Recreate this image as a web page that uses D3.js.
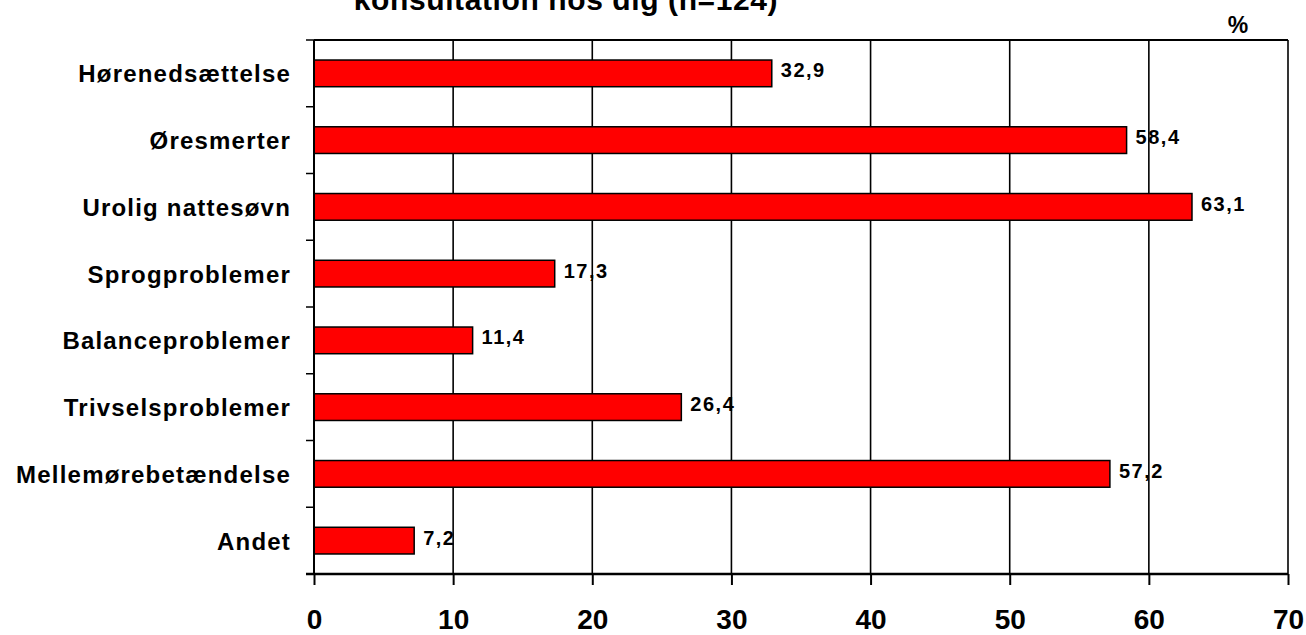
<!DOCTYPE html>
<html>
<head>
<meta charset="utf-8">
<script src="https://cdn.jsdelivr.net/npm/d3@7"></script>
<style>
  body { margin: 0; background: #fff; }
  svg { display: block; font-family: "Liberation Sans", Arial, sans-serif; font-weight: bold; }
</style>
</head>
<body>
<svg id="chart" width="1306" height="635"></svg>
<script>
const categories = ["Hørenedsættelse", "Øresmerter", "Urolig nattesøvn", "Sprogproblemer",
  "Balanceproblemer", "Trivselsproblemer", "Mellemørebetændelse", "Andet"];
const values = [32.9, 58.4, 63.1, 17.3, 11.4, 26.4, 57.2, 7.2];
const xTicks = [0, 10, 20, 30, 40, 50, 60, 70];
const titleText = "konsultation hos dig (n=124)";
const unitText = "%";

const svg = d3.select("#chart");
const plotLeft = 314, plotRight = 1288, plotTop = 40, plotBottom = 574;

const x = d3.scaleLinear().domain([0, 70]).range([plotLeft, plotRight]);
const y = d3.scaleBand().domain(categories).range([plotTop, plotBottom]).paddingInner(0.6).paddingOuter(0.3);

// vertical gridlines and top edge of the plot
svg.append("g").selectAll("line").data(xTicks.slice(1)).join("line")
  .attr("x1", d => x(d)).attr("x2", d => x(d))
  .attr("y1", plotTop).attr("y2", plotBottom)
  .attr("stroke", "#000").attr("stroke-width", 1.6);
svg.append("line").attr("x1", plotLeft).attr("x2", plotRight).attr("y1", plotTop).attr("y2", plotTop)
  .attr("stroke", "#000").attr("stroke-width", 2);

// bars
svg.append("g").selectAll("rect").data(values).join("rect")
  .attr("x", x(0))
  .attr("y", (d, i) => y(categories[i]))
  .attr("width", d => x(d) - x(0))
  .attr("height", y.bandwidth())
  .attr("fill", "#ff0000")
  .attr("stroke", "#000").attr("stroke-width", 1.5);

// value labels
svg.append("g").selectAll("text").data(values).join("text")
  .attr("x", d => x(d) + 9)
  .attr("y", (d, i) => y(categories[i]) + y.bandwidth() / 2 + 4)
  .attr("font-size", 20)
  .attr("letter-spacing", 1.5)
  .text(d => d.toFixed(1).replace(".", ","));

// x axis
const xAxis = svg.append("g").attr("transform", `translate(0,${plotBottom})`)
  .call(d3.axisBottom(x).tickValues(xTicks).tickSize(11).tickSizeOuter(0));
xAxis.select(".domain").remove();
xAxis.append("line").attr("x1", plotLeft - 8).attr("x2", plotRight).attr("y1", 0).attr("y2", 0)
  .attr("stroke", "#000").attr("stroke-width", 2.5);
xAxis.selectAll(".tick line").attr("stroke-width", 2);
xAxis.selectAll(".tick text")
  .attr("y", 55).attr("dy", null)
  .attr("font-size", 28).attr("font-weight", "bold")
  .attr("font-family", "Liberation Sans, Arial, sans-serif").attr("fill", "#000");

// y axis with ticks at category boundaries
const step = (plotBottom - plotTop) / categories.length;
const yAxis = svg.append("g");
yAxis.append("line").attr("x1", plotLeft).attr("x2", plotLeft).attr("y1", plotTop).attr("y2", plotBottom)
  .attr("stroke", "#000").attr("stroke-width", 2);
yAxis.selectAll("line.tk").data(d3.range(categories.length)).join("line")
  .attr("class", "tk")
  .attr("x1", plotLeft - 8).attr("x2", plotLeft)
  .attr("y1", i => plotTop + i * step).attr("y2", i => plotTop + i * step)
  .attr("stroke", "#000").attr("stroke-width", 1.5);
yAxis.selectAll("text").data(categories).join("text")
  .attr("x", 291)
  .attr("y", d => y(d) + y.bandwidth() / 2 + 9)
  .attr("text-anchor", "end")
  .attr("font-size", 24)
  .attr("letter-spacing", 1.2)
  .text(d => d);

// title (partly above the top edge) and unit
svg.append("text").attr("x", 566).attr("y", 10).attr("text-anchor", "middle")
  .attr("font-size", 30).attr("letter-spacing", 0.6).text(titleText);
svg.append("text").attr("x", 1238).attr("y", 33).attr("text-anchor", "middle")
  .attr("font-size", 23).text(unitText);
</script>
</body>
</html>
